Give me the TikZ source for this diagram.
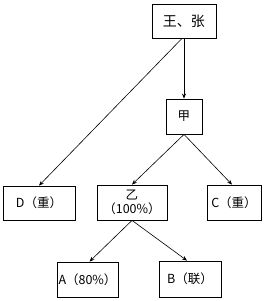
\documentclass[tikz,border=0pt]{standalone}
\usepackage{fontspec}
\setmainfont{Noto Sans CJK SC}
\usetikzlibrary{arrows.meta}
\begin{document}
\begin{tikzpicture}[x=1pt,y=-1pt,
  box/.style={draw,line width=0.8pt,inner sep=0pt,font=\fontsize{12.5}{14}\selectfont,align=center},
  arr/.style={line width=0.6pt,-{Stealth[length=5pt,width=4pt]}}]
\useasboundingbox (0,0) rectangle (275,301);
\node[box,minimum width=64pt,minimum height=34pt,font=\fontsize{14}{16}\selectfont] (wz) at (184,21) {王、张};
\node[box,minimum width=36pt,minimum height=35pt] (jia) at (184,116.5) {甲};
\node[box,minimum width=72pt,minimum height=34pt] (D) at (39,203) {D（重）};
\node[box,minimum width=70pt,minimum height=35pt] (yi) at (132,202.5) {乙\\（100\%）};
\node[box,minimum width=54pt,minimum height=35pt] (C) at (234,202.5) {C（重）};
\node[box,minimum width=61pt,minimum height=35pt] (A) at (87.5,279.5) {A（80\%）};
\node[box,minimum width=62pt,minimum height=36pt] (B) at (190,279) {B（联）};
\draw[arr] (wz.south) -- (jia.north);
\draw[arr] ([xshift=-2pt]wz.south) -- (D.north);
\draw[arr] (jia.south) -- (yi.north);
\draw[arr] (jia.south) -- ([xshift=-2pt]C.north);
\draw[arr] (yi.south) -- ([xshift=2pt]A.north);
\draw[arr] (yi.south) -- ([xshift=-3pt]B.north);
\end{tikzpicture}
\end{document}
